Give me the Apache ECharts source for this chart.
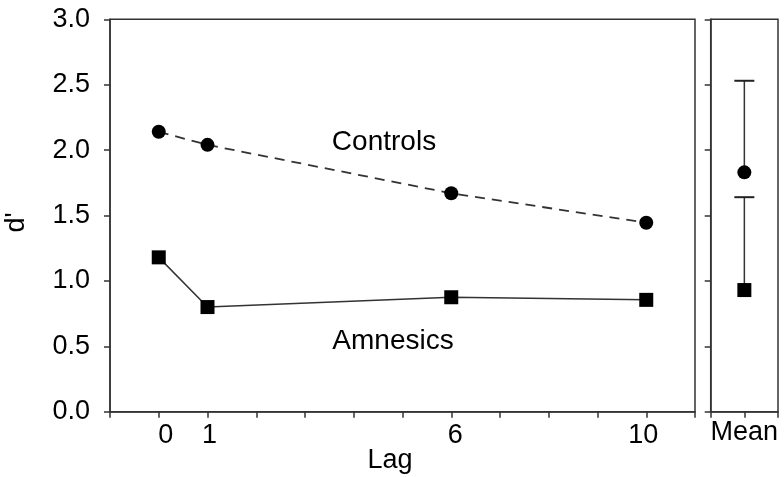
<!DOCTYPE html>
<html>
<head>
<meta charset="utf-8">
<script src="https://cdn.jsdelivr.net/npm/echarts@6/dist/echarts.min.js"></script>
<style>html,body{margin:0;padding:0;background:#fff}#c{width:784px;height:477px}</style>
</head>
<body>
<div id="c"></div>
<script>
// Data
const lags = [0, 1, 6, 10];
const lagTickLabels = [0, 1, 6, 10];
const controls = [2.14, 2.04, 1.67, 1.445];
const amnesics = [1.18, 0.80, 0.875, 0.855];
const meanCategories = ['Mean'];
const controlsMean = 1.83, controlsUpper = 2.53;
const amnesicsMean = 0.93, amnesicsUpper = 1.64;

const FONT = '"Liberation Sans", Arial, Helvetica, sans-serif';
const AX = '#333';
const chart = echarts.init(document.getElementById('c'), null, {renderer: 'canvas'});

const axisLine = {show: true, onZero: false, lineStyle: {color: AX, width: 1.5}};
const axisTick = {show: true, inside: false, length: 6, lineStyle: {color: AX, width: 1.5}};

function errBar(params, api) {
  const x = api.value(0), m = api.value(1), u = api.value(2);
  const pm = api.coord([x, m]);
  const pu = api.coord([x, u]);
  const half = 10;
  return {
    type: 'group',
    children: [
      {type: 'line', shape: {x1: pm[0], y1: pm[1], x2: pu[0], y2: pu[1]}, style: {stroke: '#333', lineWidth: 1.5}},
      {type: 'line', shape: {x1: pu[0] - half, y1: pu[1], x2: pu[0] + half, y2: pu[1]}, style: {stroke: '#222', lineWidth: 2}}
    ]
  };
}

const lagRich = {
  t0: {padding: [0, 0, 0, 14]},
  t1: {padding: [0, 0, 0, 4]},
  t6: {padding: [0, 0, 0, 8]},
  t10: {padding: [0, 6, 0, 0]}
};
Object.keys(lagRich).forEach(k => { lagRich[k].fontSize = 27; lagRich[k].fontFamily = FONT; lagRich[k].color = '#000'; });

const option = {
  backgroundColor: '#fff',
  animation: false,
  grid: [
    {left: 110, right: 89, top: 19.3, bottom: 65.3, show: true, borderColor: AX, borderWidth: 1.5, backgroundColor: 'transparent', containLabel: false, outerBoundsMode: 'none'},
    {left: 710.7, right: 6, top: 19.3, bottom: 65.3, show: true, borderColor: AX, borderWidth: 1.5, backgroundColor: 'transparent', containLabel: false, outerBoundsMode: 'none'}
  ],
  xAxis: [
    {
      type: 'value', gridIndex: 0, min: -1, max: 11, interval: 1,
      axisLine, axisTick, splitLine: {show: false},
      axisLabel: {
        margin: 10, color: '#000', fontFamily: FONT, fontSize: 27, rich: lagRich,
        formatter: v => lagTickLabels.indexOf(v) >= 0 ? '{t' + v + '|' + v + '}' : ''
      }
    },
    {
      type: 'value', gridIndex: 1, min: 0, max: 2, interval: 1,
      axisLine, axisTick, splitLine: {show: false},
      axisLabel: {
        margin: 7, color: '#000', fontFamily: FONT, fontSize: 27,
        formatter: v => v === 1 ? meanCategories[0] : ''
      }
    }
  ],
  yAxis: [
    {
      type: 'value', gridIndex: 0, min: 0, max: 3, interval: 0.5,
      axisLine, axisTick, splitLine: {show: false},
      axisLabel: {margin: 20, color: '#000', fontFamily: FONT, fontSize: 27, formatter: v => v.toFixed(1)},
      name: "d'", nameLocation: 'middle', nameRotate: 90, nameGap: 80,
      nameTextStyle: {color: '#000', fontFamily: FONT, fontSize: 27, padding: [0, 14, 0, 0]}
    },
    {
      type: 'value', gridIndex: 1, min: 0, max: 3, interval: 0.5,
      axisLine, axisTick, splitLine: {show: false},
      axisLabel: {show: false}
    }
  ],
  series: [
    {
      type: 'line', xAxisIndex: 0, yAxisIndex: 0,
      data: lags.map((l, i) => [l, controls[i]]),
      symbol: 'circle', symbolSize: 14,
      lineStyle: {color: '#333', width: 1.8, type: [10, 7]},
      itemStyle: {color: '#000', opacity: 1}
    },
    {
      type: 'line', xAxisIndex: 0, yAxisIndex: 0,
      data: lags.map((l, i) => [l, amnesics[i]]),
      symbol: 'rect', symbolSize: 14,
      lineStyle: {color: '#333', width: 1.5},
      itemStyle: {color: '#000', opacity: 1}
    },
    {
      type: 'custom', xAxisIndex: 1, yAxisIndex: 1,
      renderItem: errBar, z: 1,
      data: [[1, controlsMean, controlsUpper], [1, amnesicsMean, amnesicsUpper]]
    },
    {
      type: 'scatter', xAxisIndex: 1, yAxisIndex: 1, z: 3,
      data: [[1, controlsMean]], symbol: 'circle', symbolSize: 14, itemStyle: {color: '#000', opacity: 1}
    },
    {
      type: 'scatter', xAxisIndex: 1, yAxisIndex: 1, z: 3,
      data: [[1, amnesicsMean]], symbol: 'rect', symbolSize: 14, itemStyle: {color: '#000', opacity: 1}
    }
  ],
  graphic: [
    {type: 'text', style: {text: 'Controls', x: 384, y: 142, align: 'center', verticalAlign: 'middle', fill: '#000', font: '28px ' + FONT}},
    {type: 'text', style: {text: 'Amnesics', x: 393, y: 341, align: 'center', verticalAlign: 'middle', fill: '#000', font: '28px ' + FONT}},
    {type: 'text', style: {text: 'Lag', x: 390, y: 461, align: 'center', verticalAlign: 'middle', fill: '#000', font: '27px ' + FONT}}
  ]
};
chart.setOption(option);
</script>
</body>
</html>
